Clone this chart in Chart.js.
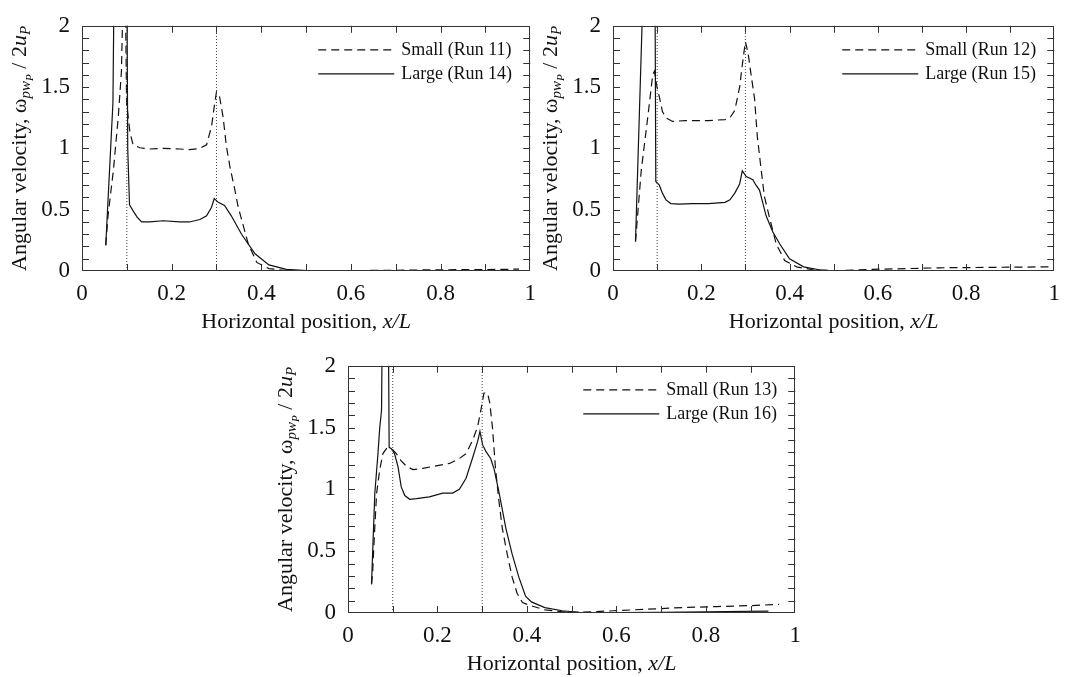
<!DOCTYPE html>
<html>
<head>
<meta charset="utf-8">
<script src="https://cdn.jsdelivr.net/npm/chart.js@4"></script>
<style>
  body { margin: 0; background: #fff; }
  canvas { position: absolute; }
</style>
</head>
<body>
<canvas id="c1" width="545" height="340" style="left:0px;top:0px"></canvas>
<canvas id="c2" width="534" height="340" style="left:535px;top:0px"></canvas>
<canvas id="c3" width="545" height="337" style="left:265px;top:340px"></canvas>
<script>
// tick values and the two dotted guide positions
const xTicks = [0, 0.2, 0.4, 0.6, 0.8, 1];
const yTicks = [0, 0.5, 1, 1.5, 2];
const guideX = [0.1, 0.3];

// top left: Run 11 (small, dashed) / Run 14 (large, solid)
const run11X = [0.053, 0.058, 0.070, 0.081, 0.088, 0.093, 0.096, 0.0995, 0.107, 0.114, 0.129, 0.151, 0.181, 0.218, 0.240, 0.263, 0.278, 0.289, 0.295, 0.300, 0.307, 0.315, 0.322, 0.330, 0.340, 0.348, 0.356, 0.371, 0.390, 0.417, 0.456, 0.520, 0.600, 0.700, 0.800, 0.900, 0.975];
const run11Y = [0.21, 0.45, 0.82, 1.26, 1.63, 2.5, 2.5, 1.37, 1.13, 1.03, 1.005, 0.995, 1.0, 0.995, 0.99, 1.0, 1.03, 1.18, 1.34, 1.46, 1.42, 1.25, 1.02, 0.85, 0.68, 0.53, 0.42, 0.22, 0.07, 0.02, 0.004, 0.0, 0.003, 0.006, 0.01, 0.012, 0.015];
const run14X = [0.053, 0.069, 0.072, 0.100, 0.102, 0.106, 0.114, 0.123, 0.133, 0.151, 0.181, 0.218, 0.240, 0.263, 0.278, 0.289, 0.295, 0.304, 0.318, 0.333, 0.356, 0.386, 0.417, 0.456, 0.510, 0.600, 0.800, 0.980];
const run14Y = [0.21, 1.37, 2.5, 2.5, 1.0, 0.54, 0.49, 0.44, 0.40, 0.40, 0.41, 0.40, 0.40, 0.42, 0.45, 0.52, 0.59, 0.56, 0.535, 0.45, 0.30, 0.14, 0.05, 0.013, 0.002, 0.0, 0.0, 0.0];

// top right: Run 12 (small, dashed) / Run 15 (large, solid)
const run12X = [0.051, 0.064, 0.079, 0.090, 0.094, 0.0997, 0.105, 0.112, 0.120, 0.135, 0.164, 0.2165, 0.254, 0.265, 0.276, 0.287, 0.293, 0.300, 0.306, 0.313, 0.321, 0.327, 0.335, 0.343, 0.355, 0.370, 0.389, 0.416, 0.455, 0.510, 0.586, 0.740, 0.894, 0.998];
const run12Y = [0.24, 0.82, 1.26, 1.60, 1.63, 1.50, 1.42, 1.30, 1.25, 1.22, 1.227, 1.227, 1.235, 1.25, 1.31, 1.50, 1.68, 1.87, 1.78, 1.60, 1.40, 1.10, 0.85, 0.61, 0.43, 0.22, 0.086, 0.034, 0.008, 0.003, 0.013, 0.026, 0.031, 0.034];
const run15X = [0.051, 0.070, 0.095, 0.097, 0.105, 0.112, 0.120, 0.131, 0.150, 0.179, 0.2165, 0.254, 0.265, 0.276, 0.287, 0.293, 0.302, 0.317, 0.324, 0.332, 0.347, 0.362, 0.378, 0.400, 0.432, 0.470, 0.510, 0.700, 0.980];
const run15Y = [0.24, 2.5, 2.5, 0.73, 0.70, 0.635, 0.58, 0.55, 0.545, 0.55, 0.55, 0.56, 0.58, 0.635, 0.71, 0.817, 0.77, 0.745, 0.70, 0.66, 0.45, 0.32, 0.22, 0.10, 0.034, 0.008, 0.0, 0.0, 0.0];

// bottom: Run 13 (small, dashed) / Run 16 (large, solid)
const run13X = [0.0526, 0.055, 0.059, 0.064, 0.071, 0.078, 0.086, 0.093, 0.100, 0.108, 0.119, 0.130, 0.145, 0.167, 0.197, 0.227, 0.249, 0.264, 0.279, 0.290, 0.297, 0.304, 0.312, 0.317, 0.323, 0.330, 0.338, 0.345, 0.356, 0.367, 0.378, 0.390, 0.410, 0.440, 0.479, 0.517, 0.594, 0.671, 0.748, 0.825, 0.902, 0.964];
const run13Y = [0.233, 0.32, 0.63, 0.97, 1.16, 1.29, 1.33, 1.33, 1.32, 1.29, 1.23, 1.19, 1.16, 1.17, 1.19, 1.21, 1.25, 1.29, 1.40, 1.51, 1.64, 1.78, 1.78, 1.70, 1.50, 1.16, 0.89, 0.685, 0.476, 0.29, 0.16, 0.084, 0.058, 0.026, 0.01, 0.005, 0.018, 0.031, 0.044, 0.052, 0.06, 0.07];
const run16X = [0.0526, 0.056, 0.060, 0.067, 0.071, 0.075, 0.077, 0.090, 0.092, 0.097, 0.104, 0.112, 0.119, 0.127, 0.138, 0.153, 0.182, 0.212, 0.234, 0.249, 0.264, 0.279, 0.290, 0.295, 0.301, 0.308, 0.319, 0.327, 0.338, 0.353, 0.367, 0.382, 0.397, 0.410, 0.440, 0.479, 0.517, 0.600, 0.700, 0.800, 0.940];
const run16Y = [0.233, 0.58, 0.97, 1.29, 1.50, 1.64, 2.5, 2.5, 1.34, 1.33, 1.29, 1.18, 1.02, 0.95, 0.92, 0.925, 0.94, 0.97, 0.97, 1.0, 1.09, 1.26, 1.39, 1.47, 1.36, 1.31, 1.25, 1.16, 0.97, 0.685, 0.476, 0.29, 0.136, 0.09, 0.044, 0.018, 0.005, 0.003, 0.005, 0.01, 0.015];

const serif = "'Liberation Serif', 'DejaVu Serif', serif";
const ink = '#111';

function zip(xs, ys) {
  return xs.map((x, i) => ({ x: x, y: ys[i] }));
}

// draws a run of text pieces, each with its own size/style/shift
function drawPieces(ctx, pieces, x, y, align) {
  let total = 0;
  pieces.forEach(p => {
    ctx.font = (p.italic ? 'italic ' : '') + p.size + 'px ' + serif;
    p.w = ctx.measureText(p.t).width;
    total += p.w;
  });
  let cx = align === 'center' ? x - total / 2 : x;
  pieces.forEach(p => {
    ctx.font = (p.italic ? 'italic ' : '') + p.size + 'px ' + serif;
    ctx.fillText(p.t, cx, y + (p.dy || 0));
    cx += p.w;
  });
}

const framePlugin = {
  id: 'frame',
  afterDraw(chart) {
    const ctx = chart.ctx;
    const a = chart.chartArea;
    const xs = chart.scales.x, ys = chart.scales.y;
    ctx.save();
    ctx.strokeStyle = '#333';
    ctx.lineWidth = 1;
    ctx.setLineDash([]);
    ctx.strokeRect(Math.round(a.left) + 0.5, Math.round(a.top) + 0.5, Math.round(a.right - a.left) - 1, Math.round(a.bottom - a.top) - 1);

    ctx.beginPath();
    for (let i = 1; i < 10; i++) {
      const px = Math.round(xs.getPixelForValue(i / 10)) + 0.5;
      ctx.moveTo(px, a.bottom); ctx.lineTo(px, a.bottom - 7);
      ctx.moveTo(px, a.top); ctx.lineTo(px, a.top + 7);
    }
    for (let i = 1; i < 20; i++) {
      const py = Math.round(ys.getPixelForValue(i / 10)) + 0.5;
      ctx.moveTo(a.left, py); ctx.lineTo(a.left + 7, py);
      ctx.moveTo(a.right, py); ctx.lineTo(a.right - 7, py);
    }
    ctx.stroke();

    // legend
    const sets = chart.data.datasets.filter(d => d.label);
    ctx.font = '18px ' + serif;
    ctx.fillStyle = ink;
    ctx.textBaseline = 'middle';
    ctx.textAlign = 'left';
    sets.forEach((d, i) => {
      const yy = a.top + 24 + i * 24;
      ctx.strokeStyle = ink;
      ctx.lineWidth = 1.2;
      ctx.setLineDash(d.borderDash || []);
      ctx.beginPath();
      ctx.moveTo(a.right - 212, yy);
      ctx.lineTo(a.right - 136, yy);
      ctx.stroke();
      ctx.fillText(d.label, a.right - 129, yy);
    });
    ctx.setLineDash([]);

    // axis titles
    ctx.textBaseline = 'alphabetic';
    ctx.textAlign = 'left';
    drawPieces(ctx, [
      { t: 'Horizontal position, ', size: 22 },
      { t: 'x/L', size: 22, italic: true }
    ], (a.left + a.right) / 2, a.bottom + 57, 'center');

    ctx.translate(a.left - 56, (a.top + a.bottom) / 2);
    ctx.rotate(-Math.PI / 2);
    drawPieces(ctx, [
      { t: 'Angular velocity, \u03c9', size: 22 },
      { t: 'pw', size: 15, italic: true, dy: 4 },
      { t: 'P', size: 11, italic: true, dy: 7 },
      { t: ' / 2', size: 22 },
      { t: 'u', size: 22, italic: true },
      { t: 'P', size: 15, italic: true, dy: 4 }
    ], 0, 0, 'center');
    ctx.restore();
  }
};

function makeChart(id, p) {
  const canvas = document.getElementById(id);
  const a = p.area;
  const guides = guideX.map(g => ({
    data: [{ x: g, y: 0 }, { x: g, y: 2 }],
    borderColor: '#444',
    borderWidth: 1,
    borderDash: [1, 2]
  }));
  return new Chart(canvas, {
    type: 'line',
    data: {
      datasets: guides.concat([
        { label: p.smallLabel, data: zip(p.sx, p.sy), borderColor: ink, borderWidth: 1.2, borderDash: [8, 5] },
        { label: p.largeLabel, data: zip(p.lx, p.ly), borderColor: ink, borderWidth: 1.2 }
      ])
    },
    options: {
      responsive: false,
      animation: false,
      devicePixelRatio: 1,
      elements: { point: { radius: 0 }, line: { tension: 0 } },
      layout: { padding: { left: 0, top: a.top, right: p.w - a.right, bottom: 0 } },
      plugins: { legend: { display: false }, tooltip: { enabled: false } },
      scales: {
        x: {
          type: 'linear', min: 0, max: 1,
          grid: { display: false, drawTicks: false },
          border: { display: false },
          afterFit: s => { s.height = p.h - a.bottom; },
          afterBuildTicks: s => { s.ticks = xTicks.map(v => ({ value: v })); },
          ticks: { font: { family: serif, size: 23 }, color: ink, padding: 9, maxRotation: 0, autoSkip: false, callback: v => String(v) }
        },
        y: {
          type: 'linear', min: 0, max: 2,
          grid: { display: false, drawTicks: false },
          border: { display: false },
          afterFit: s => { s.width = a.left; },
          afterBuildTicks: s => { s.ticks = yTicks.map(v => ({ value: v })); },
          ticks: { font: { family: serif, size: 23 }, color: ink, padding: 12, autoSkip: false, callback: v => String(v) }
        }
      }
    },
    plugins: [framePlugin]
  });
}

makeChart('c1', { w: 545, h: 340, area: { left: 82, right: 531, top: 18, bottom: 271 },
  smallLabel: 'Small (Run 11)', largeLabel: 'Large (Run 14)', sx: run11X, sy: run11Y, lx: run14X, ly: run14Y });
makeChart('c2', { w: 534, h: 340, area: { left: 78, right: 526, top: 18, bottom: 271 },
  smallLabel: 'Small (Run 12)', largeLabel: 'Large (Run 15)', sx: run12X, sy: run12Y, lx: run15X, ly: run15Y });
makeChart('c3', { w: 545, h: 337, area: { left: 83, right: 533, top: 19, bottom: 273 },
  smallLabel: 'Small (Run 13)', largeLabel: 'Large (Run 16)', sx: run13X, sy: run13Y, lx: run16X, ly: run16Y });
</script>
</body>
</html>
